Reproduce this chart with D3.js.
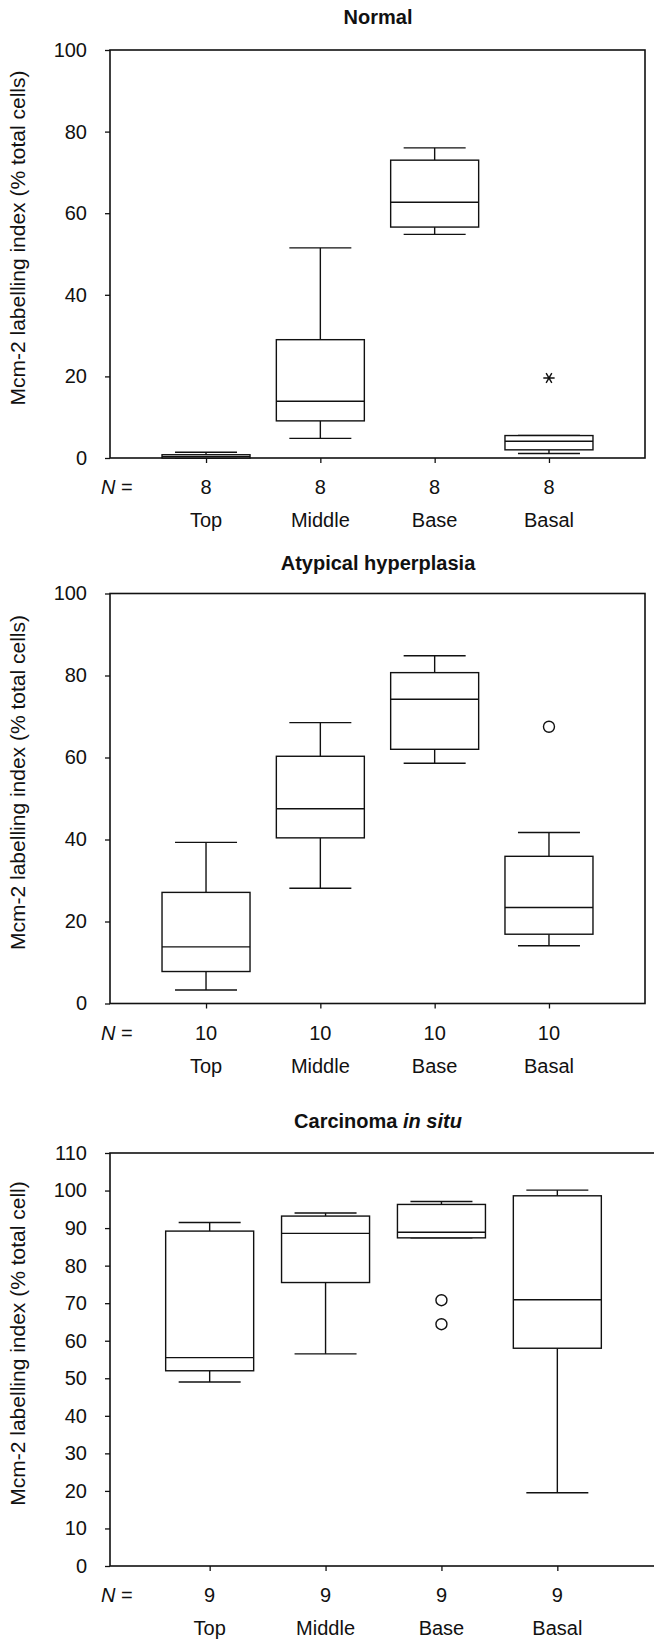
<!DOCTYPE html>
<html>
<head>
<meta charset="utf-8">
<script src="https://cdn.jsdelivr.net/npm/d3@7"></script>
<style>
  body { margin: 0; background: #fff; }
  text { font-family: "Liberation Sans", Arial, sans-serif; fill: #111; }
</style>
</head>
<body>
<div id="grafica"></div>
<script>
// categorias del eje x (las mismas en los tres paneles)
const categorias = ["Top", "Middle", "Base", "Basal"];

// cada caja: [minimo, Q1, mediana, Q3, maximo]
const normalCajas = [
  [0, 0, 0.3, 0.8, 1.4],
  [4.8, 9.1, 13.9, 29.0, 51.5],
  [54.8, 56.6, 62.7, 73.0, 76.0],
  [1.1, 2.0, 4.1, 5.5, 5.5]
];
const normalN = [8, 8, 8, 8];
const normalAtipicos = [{ cat: "Basal", valor: 19.6, tipo: "extremo" }];
const normalTicks = [0, 20, 40, 60, 80, 100];

const hiperCajas = [
  [3.3, 7.8, 13.8, 27.1, 39.3],
  [28.1, 40.4, 47.5, 60.3, 68.5],
  [58.6, 62.0, 74.2, 80.7, 84.8],
  [14.1, 16.9, 23.4, 35.9, 41.7]
];
const hiperN = [10, 10, 10, 10];
const hiperAtipicos = [{ cat: "Basal", valor: 67.5, tipo: "atipico" }];
const hiperTicks = [0, 20, 40, 60, 80, 100];

const carcinomaCajas = [
  [49.0, 52.0, 55.5, 89.2, 91.5],
  [56.5, 75.5, 88.6, 93.2, 94.0],
  [87.4, 87.4, 88.9, 96.3, 97.1],
  [19.5, 58.0, 70.9, 98.6, 100.1]
];
const carcinomaN = [9, 9, 9, 9];
const carcinomaAtipicos = [
  { cat: "Base", valor: 70.8, tipo: "atipico" },
  { cat: "Base", valor: 64.4, tipo: "atipico" }
];
const carcinomaTicks = [0, 10, 20, 30, 40, 50, 60, 70, 80, 90, 100, 110];

const svg = d3.select("#grafica")
  .append("svg")
  .attr("width", 654)
  .attr("height", 1640);

svg.append("rect").attr("width", 654).attr("height", 1640).attr("fill", "white");

// Dibuja un panel completo (caja de ejes, cajas, etiquetas)
function dibujarPanel(cfg) {
  const izq = 110;
  const g = svg.append("g");

  const y = d3.scaleLinear()
    .domain([0, d3.max(cfg.ticks)])
    .range([cfg.abajo, cfg.arriba]);

  const x = d3.scalePoint()
    .domain(categorias)
    .range([izq, cfg.der])
    .padding(cfg.relleno);

  // titulo
  const titulo = g.append("text")
    .attr("x", 378)
    .attr("y", cfg.tituloY)
    .attr("text-anchor", "middle")
    .style("font-size", "20px")
    .style("font-weight", "bold");
  titulo.append("tspan").text(cfg.titulo);
  if (cfg.tituloItalica) {
    titulo.append("tspan").style("font-style", "italic").text(cfg.tituloItalica);
  }

  // eje y
  const yAxis = d3.axisLeft(y).tickValues(cfg.ticks).tickSize(5).tickPadding(18);
  const ejeY = g.append("g")
    .attr("transform", `translate(${izq},0)`)
    .call(yAxis);
  ejeY.select(".domain").remove();
  ejeY.selectAll("line").attr("stroke", "#111").attr("stroke-width", 1.3);
  ejeY.selectAll("text")
    .style("font-size", "20px")
    .attr("fill", "#111");

  // eje x (solo marcas)
  const xAxis = d3.axisBottom(x).tickSize(5).tickFormat("");
  const ejeX = g.append("g")
    .attr("transform", `translate(0,${cfg.abajo})`)
    .call(xAxis);
  ejeX.select(".domain").remove();
  ejeX.selectAll("line").attr("stroke", "#111").attr("stroke-width", 1.3);

  // marco
  g.append("rect")
    .attr("x", izq)
    .attr("y", cfg.arriba)
    .attr("width", cfg.der - izq)
    .attr("height", cfg.abajo - cfg.arriba)
    .attr("fill", "none")
    .attr("stroke", "#111")
    .attr("stroke-width", 1.6);

  // etiqueta eje y
  g.append("text")
    .attr("transform", `translate(25,${(cfg.arriba + cfg.abajo) / 2 - 16}) rotate(-90)`)
    .attr("text-anchor", "middle")
    .style("font-size", "21px")
    .text(cfg.etiquetaY);

  // cajas
  const datos = categorias.map((c, i) => ({ cat: c, v: cfg.cajas[i], n: cfg.n[i] }));
  const anchoCaja = 88;
  const anchoBigote = 62;
  const cajas = g.selectAll(".caja").data(datos).enter().append("g")
    .attr("class", "caja")
    .attr("stroke", "#111")
    .attr("stroke-width", 1.4)
    .attr("fill", "none");

  // bigote superior e inferior
  cajas.append("line")
    .attr("x1", (d) => x(d.cat)).attr("x2", (d) => x(d.cat))
    .attr("y1", (d) => y(d.v[3])).attr("y2", (d) => y(d.v[4]));
  cajas.append("line")
    .attr("x1", (d) => x(d.cat)).attr("x2", (d) => x(d.cat))
    .attr("y1", (d) => y(d.v[0])).attr("y2", (d) => y(d.v[1]));
  cajas.append("line")
    .attr("x1", (d) => x(d.cat) - anchoBigote / 2).attr("x2", (d) => x(d.cat) + anchoBigote / 2)
    .attr("y1", (d) => y(d.v[4])).attr("y2", (d) => y(d.v[4]));
  cajas.append("line")
    .attr("x1", (d) => x(d.cat) - anchoBigote / 2).attr("x2", (d) => x(d.cat) + anchoBigote / 2)
    .attr("y1", (d) => y(d.v[0])).attr("y2", (d) => y(d.v[0]));
  cajas.append("rect")
    .attr("x", (d) => x(d.cat) - anchoCaja / 2)
    .attr("width", anchoCaja)
    .attr("y", (d) => y(d.v[3]))
    .attr("height", (d) => y(d.v[1]) - y(d.v[3]))
    .attr("fill", "white");
  cajas.append("line")
    .attr("x1", (d) => x(d.cat) - anchoCaja / 2).attr("x2", (d) => x(d.cat) + anchoCaja / 2)
    .attr("y1", (d) => y(d.v[2])).attr("y2", (d) => y(d.v[2]));

  // atipicos (circulo) y extremos (asterisco)
  cfg.atipicos.forEach((a) => {
    if (a.tipo === "atipico") {
      g.append("circle")
        .attr("cx", x(a.cat))
        .attr("cy", y(a.valor))
        .attr("r", 5.5)
        .attr("fill", "none")
        .attr("stroke", "#111")
        .attr("stroke-width", 1.4);
    } else {
      g.append("path")
        .attr("d", d3.symbol().type(d3.symbolAsterisk).size(90)())
        .attr("transform", `translate(${x(a.cat)},${y(a.valor)}) rotate(90)`)
        .attr("fill", "none")
        .attr("stroke", "#111")
        .attr("stroke-width", 1.4);
    }
  });

  // fila N = y nombres de categoria
  g.append("text")
    .attr("x", 101)
    .attr("y", cfg.abajo + 36)
    .style("font-size", "20px")
    .html('<tspan font-style="italic">N</tspan> =');

  g.selectAll(".nval").data(datos).enter().append("text")
    .attr("class", "nval")
    .attr("x", (d) => x(d.cat))
    .attr("y", cfg.abajo + 36)
    .attr("text-anchor", "middle")
    .style("font-size", "20px")
    .text((d) => d.n);

  g.selectAll(".cat").data(datos).enter().append("text")
    .attr("class", "cat")
    .attr("x", (d) => x(d.cat))
    .attr("y", cfg.abajo + 69)
    .attr("text-anchor", "middle")
    .style("font-size", "20px")
    .text((d) => d.cat);
}

dibujarPanel({
  titulo: "Normal", tituloY: 24,
  arriba: 50, abajo: 458, der: 645, relleno: 0.84,
  ticks: normalTicks, cajas: normalCajas, n: normalN, atipicos: normalAtipicos,
  etiquetaY: "Mcm-2 labelling index (% total cells)"
});

dibujarPanel({
  titulo: "Atypical hyperplasia", tituloY: 570,
  arriba: 593.5, abajo: 1003.5, der: 645, relleno: 0.84,
  ticks: hiperTicks, cajas: hiperCajas, n: hiperN, atipicos: hiperAtipicos,
  etiquetaY: "Mcm-2 labelling index (% total cells)"
});

dibujarPanel({
  titulo: "Carcinoma ", tituloItalica: "in situ", tituloY: 1128,
  arriba: 1153, abajo: 1566, der: 657, relleno: 0.86,
  ticks: carcinomaTicks, cajas: carcinomaCajas, n: carcinomaN, atipicos: carcinomaAtipicos,
  etiquetaY: "Mcm-2 labelling index (% total cell)"
});
</script>
</body>
</html>
